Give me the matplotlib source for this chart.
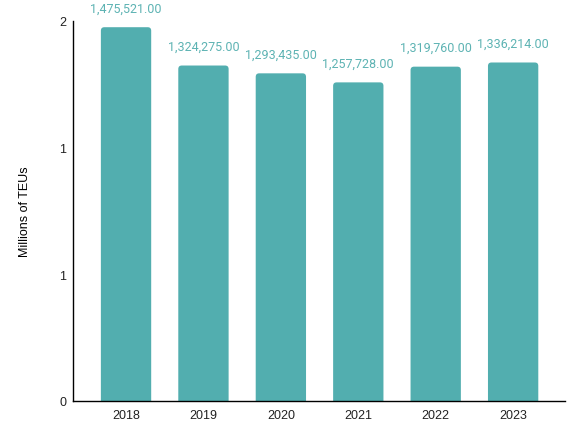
import matplotlib
matplotlib.use("Agg")
import matplotlib.pyplot as plt
from matplotlib.patches import FancyBboxPatch
from matplotlib.ticker import FixedLocator, FuncFormatter

years = ["2018", "2019", "2020", "2021", "2022", "2023"]
teus = [1475521.00, 1324275.00, 1293435.00, 1257728.00, 1319760.00, 1336214.00]
ytick_vals = [0, 0.5, 1.0, 1.5]

plt.rcParams['font.family'] = ['Liberation Sans', 'DejaVu Sans']
color = "#52AEAF"
label_color = "#5DB3B3"

fig = plt.figure(figsize=(5.71, 4.27), dpi=100)
ax = fig.add_axes([73/571, 25/427, 492/571, 380/427])

vals_m = [v / 1e6 for v in teus]
x = list(range(len(years)))
width = 0.65
rs = 0.045
aspect = 77.4 / 253.3
for xi, v, raw in zip(x, vals_m, teus):
    patch = FancyBboxPatch((xi - width / 2, -0.05), width, v + 0.05,
                           boxstyle=f"round,pad=0,rounding_size={rs}",
                           mutation_aspect=aspect, facecolor=color,
                           edgecolor="none", zorder=2)
    ax.add_patch(patch)
    ax.annotate(f"{raw:,.2f}", (xi, v), xytext=(0, 9), textcoords="offset points",
                ha="center", va="bottom", fontsize=9, color=label_color,
                family=['Roboto', 'DejaVu Sans'])

ax.set_xlim(-0.685, 5.67)
ax.set_ylim(0, 1.5)
ax.set_xticks(x)
ax.set_xticklabels(years)
ax.yaxis.set_major_locator(FixedLocator(ytick_vals))
ax.yaxis.set_major_formatter(FuncFormatter(lambda v, p: f"{v:.0f}" if v != 0.5 else "1"))
ax.tick_params(axis="both", length=0, labelsize=9, colors="#222222")
ax.tick_params(axis="x", pad=6)
ax.tick_params(axis="y", pad=5)
for s in ["top", "right"]:
    ax.spines[s].set_visible(False)
ax.spines["left"].set_linewidth(1)
ax.spines["bottom"].set_linewidth(1)
ax.spines["left"].set_zorder(3)
ax.spines["bottom"].set_zorder(3)
ax.set_ylabel("Millions of TEUs", fontsize=9)
ax.yaxis.set_label_coords(-0.086, 0.5)

fig.savefig("out.png", dpi=100)
